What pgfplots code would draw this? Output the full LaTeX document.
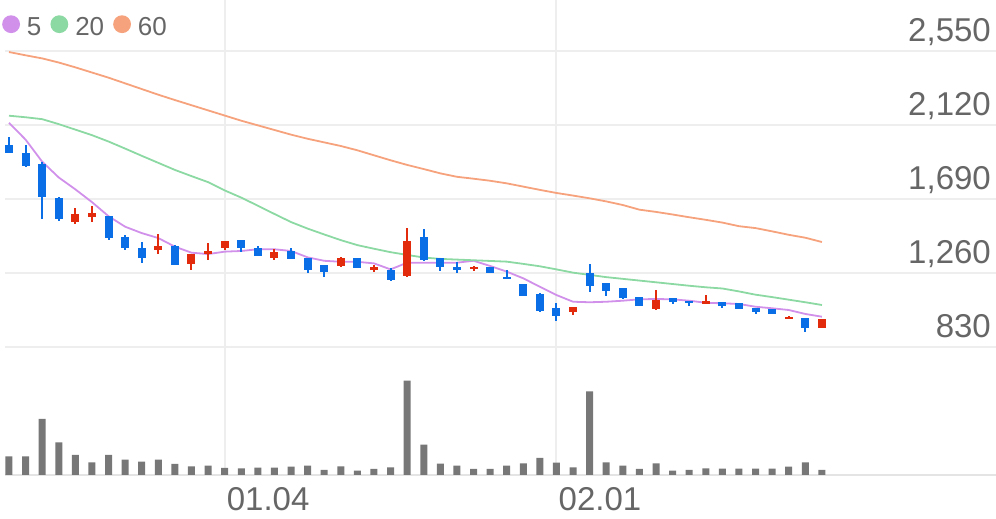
\documentclass[border=0pt]{standalone}
\usepackage{fontspec}
\setmainfont{Liberation Sans}
\usepackage{pgfplots}
\usepackage{pgfplotstable}
\pgfplotsset{compat=1.18}

\definecolor{candleup}{HTML}{E22A0C}
\definecolor{candledn}{HTML}{0A6FE6}
\definecolor{ma5c}{HTML}{D191EA}
\definecolor{ma20c}{HTML}{8CD9A3}
\definecolor{ma60c}{HTML}{F6A27C}
\definecolor{volc}{HTML}{777777}
\definecolor{gridc}{HTML}{EEEEEE}
\definecolor{basec}{HTML}{E4E4E4}
\definecolor{labc}{HTML}{666666}

% falling days (blue)
\pgfplotstableread{
i  o    h    l    c
0  2004 2050 1957 1957
1  1959 2004 1876 1882
2  1893 1907 1574 1703
3  1698 1702 1562 1572
6  1591 1591 1452 1463
7  1471 1481 1394 1403
8  1403 1442 1320 1349
10 1417 1423 1307 1307
14 1452 1452 1384 1403
15 1403 1419 1359 1359
17 1388 1403 1341 1341
18 1345 1345 1258 1277
19 1306 1306 1238 1268
21 1345 1345 1287 1287
23 1277 1287 1215 1219
25 1471 1514 1332 1336
26 1345 1345 1273 1297
27 1297 1326 1258 1277
29 1297 1297 1262 1262
30 1235 1277 1228 1229
31 1194 1194 1128 1128
32 1136 1146 1035 1041
33 1055 1087 983  1012
35 1258 1311 1148 1184
36 1204 1204 1126 1155
37 1171 1171 1107 1113
38 1122 1122 1068 1068
40 1113 1113 1080 1093
41 1099 1099 1070 1084
43 1090 1090 1055 1068
44 1084 1087 1051 1051
45 1058 1058 1022 1035
46 1051 1051 1020 1020
48 1000 1000 915  939
}\downtable

% rising days (red)
\pgfplotstableread{
i  o    h    l    c
4  1558 1638 1545 1603
5  1587 1651 1556 1607
9  1394 1485 1370 1419
11 1311 1370 1277 1370
12 1369 1433 1336 1388
13 1403 1446 1394 1446
16 1349 1399 1336 1380
20 1301 1355 1297 1345
22 1281 1306 1268 1293
24 1243 1520 1235 1448
28 1283 1302 1273 1297
34 1035 1061 1016 1061
39 1049 1161 1045 1103
42 1084 1132 1084 1093
47 994  1010 991  1000
49 939  993  939  993
}\uptable

% moving averages and volume
\pgfplotstableread{
i  ma5  ma20 ma60 vol
0  2133 2174 2544 18.7
1  2035 2165 2525 18.7
2  1907 2154 2507 56.0
3  1815 2125 2483 32.7
4  1746 2093 2455 20.0
5  1672 2061 2425 12.7
6  1590 2024 2395 20.0
7  1529 1983 2362 15.3
8  1492 1941 2329 13.3
9  1463 1900 2296 15.3
10 1413 1859 2265 11.0
11 1378 1823 2235 8.7
12 1370 1788 2205 9.3
13 1384 1740 2175 7.0
14 1388 1698 2145 6.7
15 1398 1651 2118 7.3
16 1398 1603 2091 7.3
17 1388 1556 2064 8.3
18 1351 1518 2040 9.3
19 1331 1484 2019 5.0
20 1325 1451 1998 8.7
21 1325 1422 1973 4.3
22 1316 1401 1944 6.0
23 1281 1381 1915 7.7
24 1320 1365 1888 94.3
25 1320 1350 1864 30.3
26 1320 1342 1839 11.3
27 1320 1338 1819 9.3
28 1331 1334 1808 6.0
29 1301 1330 1796 6.0
30 1268 1326 1781 9.3
31 1229 1313 1762 11.7
32 1180 1299 1743 17.0
33 1132 1281 1725 12.3
34 1093 1262 1710 7.7
35 1090 1249 1694 83.7
36 1093 1236 1676 12.7
37 1099 1226 1655 9.3
38 1107 1216 1628 6.0
39 1109 1206 1615 11.7
40 1107 1196 1600 4.3
41 1099 1186 1584 5.0
42 1087 1177 1569 6.7
43 1084 1170 1553 6.3
44 1080 1153 1532 6.3
45 1064 1134 1521 6.3
46 1055 1120 1502 6.3
47 1045 1105 1482 8.3
48 1022 1090 1465 12.7
49 1006 1074 1440 5.0
}\matable

% a candle part is an error bar with no line and no mark
\pgfplotsset{
  candle/.style 2 args={draw=none, mark=none, forget plot,
    error bars/.cd, y dir=both, y explicit, error mark=none,
    error bar style={draw=#2, line width=#1}},
}

\begin{document}
\begin{tikzpicture}
\path[use as bounding box] (0,0) rectangle (996pt,519pt);

% price panel
\begin{axis}[
  at={(5pt,169pt)}, anchor=south west,
  scale only axis, width=991pt, height=350pt,
  xmin=-0.2411, xmax=59.494, ymin=812.6, ymax=2846.4,
  axis line style={draw=none}, major tick length=0pt,
  xtick={13,33}, xticklabels={},
  ytick={830,1260,1690,2120,2550},
  xmajorgrids, ymajorgrids,
  grid style={gridc, line width=2pt},
  scaled y ticks=false,
  yticklabel pos=right,
  yticklabel style={anchor=base east, inner sep=0pt, xshift=-5pt, yshift=10pt,
    font=\fontsize{33}{36}\selectfont, text=labc,
    /pgf/number format/1000 sep={,}, /pgf/number format/assume math mode=true},
  legend style={at={(rel axis cs:0,1)}, anchor=west, xshift=-3pt, yshift=-27pt,
    draw=none, fill=none, inner sep=0pt,
    font=\fontsize{26}{28}\selectfont, text=labc,
    /tikz/every odd column/.append style={column sep=5pt},
    /tikz/every even column/.append style={column sep=7pt}},
  legend columns=-1,
  legend image code/.code={\fill (8pt,0.28em) circle (8pt);},
]
\addplot[color=ma5c, line width=1.8pt, no marks] table[x=i, y=ma5] {\matable};
\addlegendentry{5}
\addplot[color=ma20c, line width=1.8pt, no marks] table[x=i, y=ma20] {\matable};
\addlegendentry{20}
\addplot[color=ma60c, line width=1.8pt, no marks] table[x=i, y=ma60] {\matable};
\addlegendentry{60}

% wicks
\addplot[candle={2pt}{candledn}] table[x=i,
  y expr=(\thisrow{h}+\thisrow{l})/2,
  y error expr=(\thisrow{h}-\thisrow{l})/2] {\downtable};
\addplot[candle={2pt}{candleup}] table[x=i,
  y expr=(\thisrow{h}+\thisrow{l})/2,
  y error expr=(\thisrow{h}-\thisrow{l})/2] {\uptable};
% bodies
\addplot[candle={8pt}{candledn}] table[x=i,
  y expr=(\thisrow{o}+\thisrow{c})/2,
  y error expr={max(abs(\thisrow{o}-\thisrow{c})/2,7)}] {\downtable};
\addplot[candle={8pt}{candleup}] table[x=i,
  y expr=(\thisrow{o}+\thisrow{c})/2,
  y error expr={max(abs(\thisrow{o}-\thisrow{c})/2,7)}] {\uptable};
\end{axis}

% volume panel
\begin{axis}[
  at={(5pt,44pt)}, anchor=south west,
  scale only axis, width=991pt, height=125pt,
  xmin=-0.2411, xmax=59.494, ymin=0, ymax=125,
  axis x line=bottom, axis y line=none,
  x axis line style={draw=basec, line width=2.5pt, -},
  major tick length=0pt,
  xtick={13,33}, xticklabels={01.04,02.01},
  xmajorgrids, grid style={gridc, line width=2pt},
  xticklabel style={anchor=base west, inner sep=0pt, xshift=2pt, yshift=-36pt,
    font=\fontsize{33}{36}\selectfont, text=labc},
]
\addplot[ybar, bar width=7pt, fill=volc, draw=none] table[x=i, y=vol] {\matable};
\end{axis}
\end{tikzpicture}
\end{document}
